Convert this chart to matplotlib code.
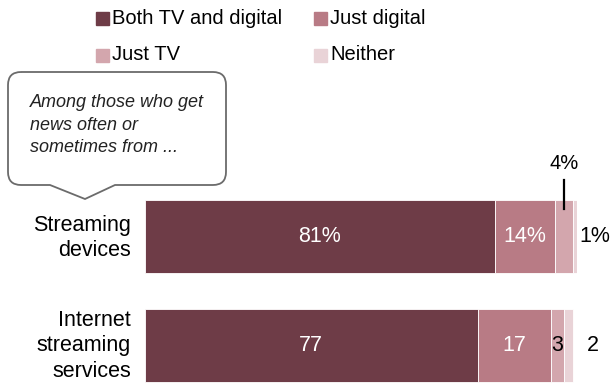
import matplotlib
matplotlib.use("Agg")
import matplotlib.pyplot as plt
from matplotlib.path import Path
from matplotlib.patches import PathPatch, Rectangle

plt.rcParams['font.family'] = ['Liberation Sans Narrow', 'Liberation Sans', 'DejaVu Sans']

categories = ["Streaming\ndevices", "Internet\nstreaming\nservices"]
series = ["Both TV and digital", "Just digital", "Just TV", "Neither"]
both_tv_digital = [81, 77]
just_digital = [14, 17]
just_tv = [4, 3]
neither = [1, 2]
labels_top = ["81%", "14%", "4%", "1%"]
labels_bottom = ["77", "17", "3", "2"]

colors = ["#6e3c47", "#b87b85", "#d3a6ad", "#e9d3d7"]

W, H = 614, 384
fig = plt.figure(figsize=(W / 100, H / 100), dpi=100)

# overlay in pixel coords for legend + callout
ov = fig.add_axes([0, 0, 1, 1])
ov.set_xlim(0, W)
ov.set_ylim(H, 0)
ov.axis("off")

# bar axes: x 0..100 spans px 145..577
ax = fig.add_axes([145 / W, 0, 432 / W, (384 - 190) / H])
ax.set_xlim(0, 100)
ax.set_ylim(-0.353, 1.427)
ax.axis("off")

ypos = [1, 0]
rows = [both_tv_digital, just_digital, just_tv, neither]
left = [0, 0]
bars = []
for vals, c in zip(rows, colors):
    b = ax.barh(ypos, vals, left=left, height=0.67, color=c, edgecolor="white", linewidth=0.6)
    bars.append(b)
    left = [l + v for l, v in zip(left, vals)]

fs = 15.5
# labels inside segments
for i, labs in enumerate([labels_top, labels_bottom]):
    y = ypos[i]
    r0 = bars[0][i]
    r1 = bars[1][i]
    r2 = bars[2][i]
    r3 = bars[3][i]
    ax.text(r0.get_x() + r0.get_width() / 2, y, labs[0], color="white", ha="center", va="center", fontsize=fs)
    ax.text(r1.get_x() + r1.get_width() / 2, y, labs[1], color="white", ha="center", va="center", fontsize=fs)
    if i == 0:
        xc = r2.get_x() + r2.get_width() / 2
        ax.plot([xc, xc], [y + 0.25, y + 0.52], color="black", lw=1.6, clip_on=False)
        ax.text(xc, y + 0.58, labs[2], color="black", ha="center", va="bottom", fontsize=fs - 1)
        ax.text(r3.get_x() + r3.get_width() + 0.6, y, labs[3], color="black", ha="left", va="center", fontsize=fs)
    else:
        ax.text(r2.get_x() + r2.get_width() / 2, y, labs[2], color="black", ha="center", va="center", fontsize=fs)
        ax.text(r3.get_x() + r3.get_width() + 3.2, y, labs[3], color="black", ha="left", va="center", fontsize=fs)

# category labels
ov.text(131, 238, categories[0], ha="right", va="center", fontsize=fs, linespacing=1.3)
ov.text(131, 346, categories[1], ha="right", va="center", fontsize=fs, linespacing=1.3)

# legend
leg_pos = [(96, 18), (314, 18), (96, 55), (314, 55)]
for (lx, ly), name, c in zip(leg_pos, series, colors):
    ov.add_patch(Rectangle((lx, ly - 6.5), 13, 13, color=c))
    ov.text(lx + 16, ly, name, ha="left", va="center", fontsize=14.5)

# speech-bubble callout
x0, x1, y0, y1, r = 8, 226, 72, 185, 13
verts = [
    (x0 + r, y0), (x1 - r, y0), (x1, y0), (x1, y0 + r),
    (x1, y1 - r), (x1, y1), (x1 - r, y1),
    (115, y1), (85, 199), (50, y1),
    (x0 + r, y1), (x0, y1), (x0, y1 - r),
    (x0, y0 + r), (x0, y0), (x0 + r, y0),
]
codes = [
    Path.MOVETO, Path.LINETO, Path.CURVE3, Path.CURVE3,
    Path.LINETO, Path.CURVE3, Path.CURVE3,
    Path.LINETO, Path.LINETO, Path.LINETO,
    Path.LINETO, Path.CURVE3, Path.CURVE3,
    Path.LINETO, Path.CURVE3, Path.CURVE3,
]
ov.add_patch(PathPatch(Path(verts, codes), facecolor="white", edgecolor="#6b6b6b", lw=1.3))
ov.text(30, 125, "Among those who get\nnews often or\nsometimes from ...", ha="left", va="center",
        fontsize=13, style="italic", linespacing=1.45, color="#222222")

fig.savefig("out.png", dpi=100)
